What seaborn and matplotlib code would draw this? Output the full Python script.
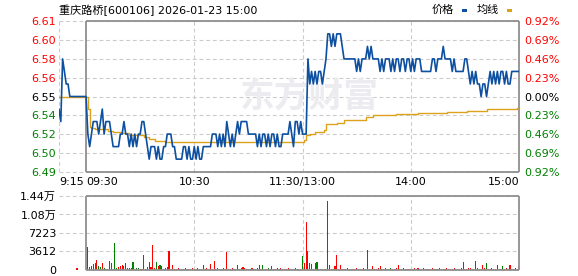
import numpy as np
import pandas as pd
import matplotlib
matplotlib.use("Agg")
import matplotlib.pyplot as plt
import seaborn as sns
from matplotlib.patches import Rectangle
from matplotlib.transforms import blended_transform_factory

# ---------------- data ----------------
title = "重庆路桥[600106] 2026-01-23 15:00"
prev_close = 6.55
pct_ticks = [0.92, 0.69, 0.46, 0.23, 0.0, -0.23, -0.46, -0.69, -0.92]
price_tick_labels = ["6.61", "6.60", "6.58", "6.56", "6.55", "6.54", "6.52", "6.50", "6.49"]
pct_tick_labels = ["0.92%", "0.69%", "0.46%", "0.23%", "0.00%", "0.23%", "0.46%", "0.69%", "0.92%"]
time_labels = ["9:15", "09:30", "10:30", "11:30/13:00", "14:00", "15:00"]
time_label_minutes = [-15, 0, 60, 120, 180, 240]
time_label_align = ["left", "left", "center", "center", "center", "right"]
grid_minutes = [-15, 60, 120, 180]

pre_minutes = [-15, -14, -13, -12, -11, -10, -9, -8, -7, -6, -5, -4, -3, -2, -1]
pre_price = [6.54, 6.53, 6.58, 6.57, 6.56, 6.56, 6.55, 6.55, 6.55, 6.55, 6.55, 6.55, 6.55, 6.55, 6.55]

price = [
    6.55, 6.52, 6.51, 6.52, 6.53, 6.53, 6.53, 6.52, 6.53, 6.54,
    6.52, 6.53, 6.53, 6.53, 6.52, 6.51, 6.51, 6.51, 6.51, 6.52,
    6.52, 6.53, 6.52, 6.52, 6.51, 6.52, 6.51, 6.52, 6.51, 6.52,
    6.52, 6.53, 6.53, 6.52, 6.51, 6.50, 6.51, 6.51, 6.51, 6.50,
    6.51, 6.50, 6.50, 6.51, 6.51, 6.52, 6.52, 6.52, 6.51, 6.51,
    6.50, 6.50, 6.50, 6.50, 6.51, 6.51, 6.50, 6.51, 6.50, 6.50,
    6.51, 6.50, 6.51, 6.50, 6.50, 6.51, 6.51, 6.51, 6.51, 6.51,
    6.52, 6.52, 6.52, 6.51, 6.52, 6.51, 6.52, 6.51, 6.53, 6.52,
    6.51, 6.52, 6.51, 6.52, 6.53, 6.52, 6.53, 6.53, 6.53, 6.53,
    6.52, 6.52, 6.52, 6.52, 6.52, 6.51, 6.52, 6.51, 6.52, 6.52,
    6.51, 6.52, 6.51, 6.52, 6.52, 6.51, 6.52, 6.51, 6.51, 6.52,
    6.52, 6.52, 6.52, 6.53, 6.52, 6.51, 6.53, 6.53, 6.52, 6.53,
    6.52, 6.52, 6.52, 6.58, 6.56, 6.57, 6.56, 6.57, 6.56, 6.57,
    6.57, 6.56, 6.57, 6.58, 6.60, 6.60, 6.59, 6.60, 6.59, 6.60,
    6.60, 6.60, 6.59, 6.58, 6.58, 6.58, 6.58, 6.58, 6.58, 6.58,
    6.57, 6.58, 6.57, 6.58, 6.58, 6.58, 6.59, 6.58, 6.59, 6.58,
    6.58, 6.58, 6.58, 6.57, 6.58, 6.57, 6.58, 6.58, 6.58, 6.57,
    6.58, 6.57, 6.58, 6.58, 6.57, 6.58, 6.58, 6.57, 6.58, 6.58,
    6.57, 6.58, 6.57, 6.58, 6.58, 6.58, 6.57, 6.57, 6.57, 6.57,
    6.57, 6.57, 6.58, 6.58, 6.57, 6.58, 6.58, 6.58, 6.59, 6.58,
    6.58, 6.58, 6.58, 6.57, 6.58, 6.57, 6.57, 6.57, 6.57, 6.57,
    6.58, 6.58, 6.57, 6.56, 6.57, 6.56, 6.57, 6.56, 6.56, 6.55,
    6.56, 6.56, 6.55, 6.56, 6.57, 6.56, 6.57, 6.56, 6.57, 6.56,
    6.57, 6.57, 6.56, 6.57, 6.56, 6.56, 6.57, 6.57, 6.57, 6.57,
    6.57,
]

avg_minutes = [-15, 0, 1, 2, 3, 5, 12, 15, 20, 24, 32, 35, 38, 44, 86, 121, 122, 124,
               127, 132, 133, 139, 143, 155, 159, 172, 184, 200, 211, 222, 239, 240]
avg_values = [6.55, 6.55, 6.540, 6.526, 6.5245, 6.5237, 6.5225, 6.5213, 6.5205, 6.5195,
              6.518, 6.516, 6.5145, 6.5133, 6.5138, 6.5150, 6.5192, 6.5197, 6.5214,
              6.5232, 6.5280, 6.5290, 6.5315, 6.5335, 6.5350, 6.5357, 6.5366, 6.5374,
              6.5387, 6.5400, 6.5410, 6.5410]

volume = [
    0, 4400, 500, 850, 1100, 1300, 2000, 850, 650, 1400,
    400, 250, 200, 1800, 1300, 200, 5300, 400, 650, 850,
    1050, 700, 1300, 400, 450, 300, 1600, 200, 400, 400,
    200, 250, 3000, 250, 650, 1600, 650, 4950, 400, 1600,
    800, 900, 800, 250, 450, 650, 3770, 200, 1000, 250,
    200, 300, 150, 250, 200, 300, 250, 200, 150, 300,
    250, 200, 300, 200, 250, 1000, 200, 300, 250, 1150,
    250, 1800, 200, 300, 250, 200, 300, 250, 3570, 200,
    250, 300, 200, 250, 1000, 200, 300, 650, 300, 200,
    250, 200, 300, 200, 250, 300, 1000, 200, 1000, 250,
    200, 300, 250, 850, 200, 250, 450, 200, 300, 250,
    200, 250, 300, 200, 250, 200, 300, 250, 200, 250,
    2800, 1300, 9300, 3800, 1300, 1100, 250, 1300, 1500, 200,
    200, 200, 250, 200, 13400, 900, 250, 200, 700, 2850,
    200, 1000, 250, 200, 250, 300, 200, 250, 200, 250,
    300, 200, 250, 200, 300, 250, 3950, 200, 250, 700,
    200, 250, 300, 700, 200, 250, 300, 200, 250, 450,
    200, 250, 300, 1000, 200, 250, 300, 200, 250, 200,
    250, 200, 300, 200, 450, 250, 200, 300, 200, 250,
    200, 250, 300, 200, 250, 200, 300, 250, 200, 250,
    300, 200, 250, 200, 300, 250, 200, 250, 300, 1600,
    200, 250, 300, 450, 200, 250, 1750, 450, 200, 250,
    900, 300, 1350, 200, 250, 300, 200, 250, 1050, 200,
    250, 700, 200, 300, 250, 1000, 250, 200, 300, 250,
    850,
]
green_minutes = [1, 2, 7, 8, 10, 11, 16, 17, 24, 26, 28, 29, 35, 39, 41, 44, 45, 52, 58, 63,
                 75, 91, 98, 101, 106, 114, 120, 124, 128, 130, 132, 147, 152, 169, 181, 194,
                 205, 217, 222, 228, 231, 236]
auction_minute = [-5]
auction_volume = [300]

vol_ticks = [0, 3612, 7223, 10835, 14446]
vol_tick_labels = ["0", "3612", "7223", "1.08万", "1.44万"]

# ---------------- style ----------------
sns.set_style("white")
plt.rcParams["font.family"] = ["DejaVu Sans", "Noto Sans CJK SC"]

PRICE_C = "#0d4fa0"
AVG_C = "#dca21c"
GRID_C = "#cccccc"
FRAME_C = "#8f8f8f"
UP_C = "#ff0000"
DN_C = "#008000"

W, H = 578, 276
fig = plt.figure(figsize=(W / 100, H / 100), dpi=100)


def fx(px):
    return px / W


def fy(py):
    return 1 - py / H


# ---------------- price panel ----------------
ax = fig.add_axes([fx(59), fy(172), (519 - 59) / W, (172 - 21) / H])
ymin = prev_close * (1 - 0.0092)
ymax = prev_close * (1 + 0.0092)
ax.set_xlim(-15, 240)
ax.set_ylim(ymin, ymax)
for s in ax.spines.values():
    s.set_visible(False)
ax.set_xticks([])

tick_pos = [prev_close * (1 + p / 100) for p in pct_ticks]
dash = (0, (3.5, 2.5))
for p in tick_pos:
    ax.axhline(p, color=GRID_C, lw=0.8, ls=dash, zorder=0, clip_on=False)
for m in grid_minutes:
    ax.axvline(m, color=GRID_C, lw=0.8, ls=dash, zorder=0)
ax.hlines([ymin, ymax], 0, 240, color=FRAME_C, lw=1.3, zorder=1, clip_on=False)
ax.vlines([0, 240], ymin, ymax, color=FRAME_C, lw=1.3, zorder=1, clip_on=False)

# watermark
ax.text(fx(309), fy(96), "东方财富", transform=fig.transFigure, fontsize=25,
        fontweight="bold", color="#ececf0", ha="center", va="center",
        family=["Noto Sans CJK SC"], zorder=0.5)

df_price = pd.DataFrame({"minute": pre_minutes + list(range(len(price))),
                         "price": pre_price + price})
df_avg = pd.DataFrame({"minute": avg_minutes, "avg": avg_values})
sns.lineplot(data=df_avg, x="minute", y="avg", ax=ax, color=AVG_C, lw=1.0,
             drawstyle="steps-post", estimator=None, sort=False, zorder=3)
sns.lineplot(data=df_price, x="minute", y="price", ax=ax, color=PRICE_C, lw=1.2,
             estimator=None, sort=False, zorder=4)
ax.set_xlabel("")
ax.set_ylabel("")
ax.set_xlim(-15, 240)
ax.set_ylim(ymin, ymax)

ax.set_yticks(tick_pos)
ax.set_yticklabels(price_tick_labels)
ax.tick_params(axis="y", length=0, pad=2, labelsize=8)
for lab, p in zip(ax.get_yticklabels(), pct_ticks):
    lab.set_color(UP_C if p > 0 else (DN_C if p < 0 else "black"))

ax2 = ax.twinx()
ax2.set_ylim(ymin, ymax)
for s in ax2.spines.values():
    s.set_visible(False)
ax2.set_yticks(tick_pos)
ax2.set_yticklabels(pct_tick_labels)
ax2.tick_params(axis="y", length=0, pad=4, labelsize=8)
for lab, p in zip(ax2.get_yticklabels(), pct_ticks):
    lab.set_color(UP_C if p > 0 else (DN_C if p < 0 else "black"))

trans = blended_transform_factory(ax.transData, ax.transAxes)
for lab, m, ha in zip(time_labels, time_label_minutes, time_label_align):
    ax.text(m, -0.03, lab, transform=trans, ha=ha, va="top", fontsize=8, color="black")

# title and legend
fig.text(fx(59), fy(10), title, ha="left", va="center", fontsize=8, color="black")
fig.text(fx(432), fy(10), "价格", ha="left", va="center", fontsize=8, color="black")
fig.patches.append(Rectangle((fx(462), fy(12)), 5 / W, 3 / H, transform=fig.transFigure,
                             facecolor=PRICE_C, edgecolor="none"))
fig.text(fx(477), fy(10), "均线", ha="left", va="center", fontsize=8, color="black")
fig.patches.append(Rectangle((fx(507), fy(12)), 5 / W, 3 / H, transform=fig.transFigure,
                             facecolor=AVG_C, edgecolor="none"))

# ---------------- volume panel ----------------
vax = fig.add_axes([fx(59), fy(270), (519 - 59) / W, (270 - 196) / H])
vmax = vol_ticks[-1]
vax.set_xlim(-15, 240)
vax.set_ylim(0, vmax)
for s in vax.spines.values():
    s.set_visible(False)
vax.set_xticks([])
for v in vol_ticks[1:]:
    vax.axhline(v, color=GRID_C, lw=0.8, ls=dash, zorder=0, clip_on=False)
for m in grid_minutes[1:]:
    vax.vlines(m, 0, vmax, color=GRID_C, lw=0.8, ls=dash, zorder=0)
vax.hlines([0, vmax], 0, 240, color=FRAME_C, lw=1.3, zorder=3, clip_on=False)
vax.vlines([0, 240], 0, vmax, color=FRAME_C, lw=1.3, zorder=3, clip_on=False)

minutes = list(range(len(volume)))
colors = [DN_C if m in green_minutes else UP_C for m in minutes]
vax.bar(minutes, volume, width=0.6, color=colors, linewidth=0, zorder=2)
vax.bar(auction_minute, auction_volume, width=0.6, color=UP_C, linewidth=0, zorder=2)

vax.set_yticks(vol_ticks)
vax.set_yticklabels(vol_tick_labels)
vax.tick_params(axis="y", length=0, pad=2, labelsize=8, labelcolor="black")

fig.savefig("out.png", dpi=100)
